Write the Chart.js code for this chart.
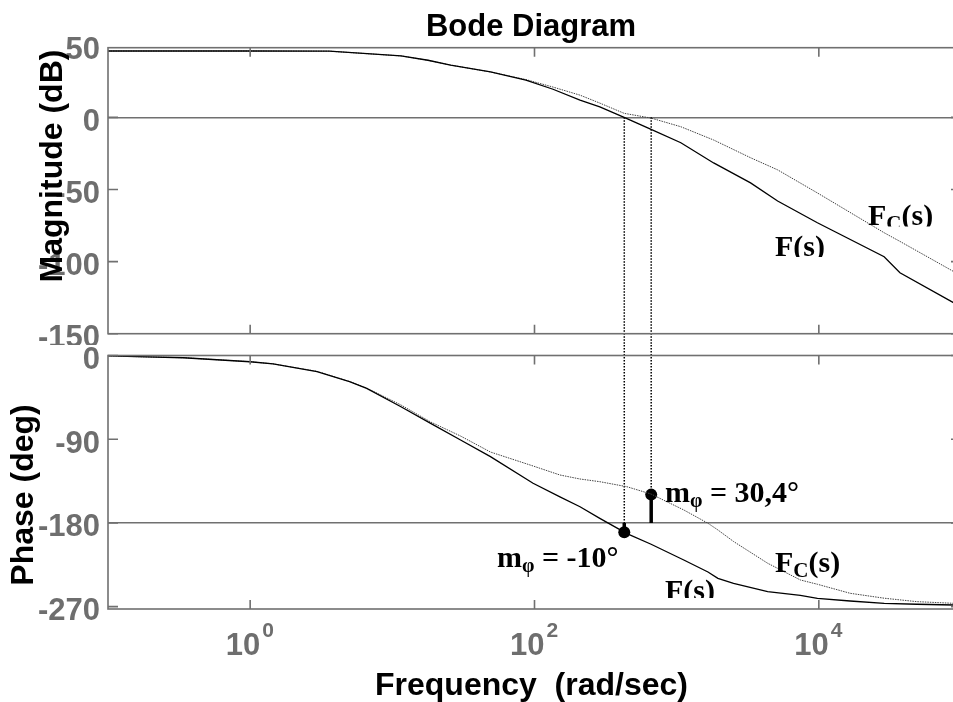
<!DOCTYPE html>
<html>
<head>
<meta charset="utf-8">
<title>Bode Diagram</title>
<script src="https://cdn.jsdelivr.net/npm/chart.js@4.4.0/dist/chart.umd.min.js"></script>
<style>
  html, body { margin: 0; padding: 0; background: #fff; overflow: hidden; }
  body { width: 953px; height: 702px; position: relative; }
  canvas { position: absolute; left: 0; }
  #mag { top: 0; }
  #phase { top: 345px; }
</style>
</head>
<body>
<canvas id="mag" width="961" height="345"></canvas>
<canvas id="phase" width="961" height="357"></canvas>
<script>
// ---- data ----
const magFreq = [0.1, 1, 3.6, 11.5, 17.8, 25.7, 49, 87, 135, 209, 288, 427, 661, 1070, 1820, 3310, 5130, 9770, 28800, 37200, 89100];
const magF    = [46, 46, 45.9, 42.6, 39.6, 36.2, 31.5, 25.8, 19.5, 12.0, 7.3, 0, -8.3, -17.6, -31.6, -45.4, -58, -73.1, -96.6, -107.7, -128.6];
const magFc   = [46, 46, 45.9, 42.6, 39.6, 36.2, 31.5, 26.2, 21, 15.4, 9.9, 2.8, -0.5, -6.5, -15.7, -28, -36.4, -52.4, -80, -86, -107];

const phaseFreq = [0.1, 0.34, 1, 1.45, 2.95, 5.0, 6.6, 11.5, 18.6, 30.2, 49, 97.7, 151, 209, 288, 447, 661, 1122, 1660, 1950, 2512, 4365, 7413, 9772, 16600, 28840, 48980, 89100];
const phaseF    = [-0.5, -2.4, -6.7, -9.1, -17.4, -28.2, -35.3, -55.1, -73, -90.9, -108.8, -137.4, -152, -162.6, -175.1, -191.5, -203, -219.9, -232.8, -239.6, -245, -254, -258, -261.1, -264, -266.5, -267.5, -268.3];
const phaseFc   = [-0.5, -2.4, -6.7, -9, -17, -28, -35, -53.2, -71.5, -86.6, -103.8, -118.8, -128.5, -132.8, -135.7, -141.1, -149, -166.1, -180.4, -187.6, -200, -223.4, -241.4, -246, -255.7, -261, -264.7, -266.5];

const crossF = 428, crossFc = 662;      // 0 dB crossover (rad/sec)
const marginF = -10, marginFc = 30.4;   // phase margins (deg)

const magTicks = [50, 0, -50, -100, -150];
const phaseTicks = [0, -90, -180, -270];
const freqTicks = [1, 100, 10000];

// ---- styling ----
const SANS = '"Liberation Sans", Arial, sans-serif';
const SERIF = '"Liberation Serif", "Times New Roman", serif';
const GRAY = '#6e6e6e';
const FRAME = '#707070';

const pts = (xs, ys) => xs.map((x, i) => ({ x, y: ys[i] }));

function yAxis(min, max, ticks, refValue) {
  return {
    type: 'linear', min, max,
    afterBuildTicks: s => { s.ticks = ticks.map(v => ({ value: v })); },
    afterFit: s => { s.width = 108; s.paddingTop = 0; s.paddingBottom = 0; },
    ticks: { color: GRAY, font: { family: SANS, size: 31, weight: 'bold' }, padding: 8, labelOffset: 5 },
    grid: {
      drawTicks: false, lineWidth: 1.5,
      color: c => (c.tick && c.tick.value === refValue) ? FRAME : 'rgba(0,0,0,0)'
    },
    border: { display: false }
  };
}

const xAxis = { type: 'logarithmic', min: 0.1, max: 1e5, display: false };

// frame with inward ticks, MATLAB style
const framePlugin = {
  id: 'frame',
  afterDraw(chart) {
    const { ctx, chartArea: a, scales: { x, y } } = chart;
    ctx.save();
    ctx.strokeStyle = FRAME;
    ctx.lineWidth = 1.6;
    ctx.strokeRect(a.left, a.top, a.right - a.left, a.bottom - a.top);
    ctx.beginPath();
    freqTicks.forEach(v => {
      const px = x.getPixelForValue(v);
      ctx.moveTo(px, a.top); ctx.lineTo(px, a.top + 9);
      ctx.moveTo(px, a.bottom); ctx.lineTo(px, a.bottom - 9);
    });
    y.ticks.forEach(t => {
      if (t.value > y.max || t.value < y.min) return;
      const py = y.getPixelForValue(t.value);
      ctx.moveTo(a.left, py); ctx.lineTo(a.left + 10, py);
      ctx.moveTo(a.right, py); ctx.lineTo(a.right - 10, py);
    });
    ctx.stroke();
    ctx.restore();
  }
};

function rich(ctx, x, y, parts) {
  ctx.textAlign = 'left';
  ctx.textBaseline = 'alphabetic';
  parts.forEach(([t, size, dy]) => {
    ctx.font = `bold ${size}px ${SERIF}`;
    ctx.fillText(t, x, y + dy);
    x += ctx.measureText(t).width;
  });
}

function clipped(ctx, w, clipY, fn) {
  ctx.save();
  ctx.beginPath();
  ctx.rect(0, 0, w, clipY);
  ctx.clip();
  fn();
  ctx.restore();
}

function dotted(ctx, x, y0, y1) {
  ctx.save();
  ctx.strokeStyle = '#000';
  ctx.lineWidth = 1.5;
  ctx.setLineDash([1.5, 1.5]);
  ctx.beginPath();
  ctx.moveTo(x, y0); ctx.lineTo(x, y1);
  ctx.stroke();
  ctx.restore();
}

/* -------------------------------------------------------------------------- */
/* Magnitude                                                                  */
/* -------------------------------------------------------------------------- */
new Chart(document.getElementById('mag'), {
  type: 'line',
  data: {
    datasets: [
      { label: 'F(s)', data: pts(magFreq, magF), borderColor: '#000', borderWidth: 1.3, pointRadius: 0, tension: 0 },
      { label: 'Fc(s)', data: pts(magFreq, magFc), borderColor: '#444', borderWidth: 1, borderDash: [1.5, 1], pointRadius: 0, tension: 0 }
    ]
  },
  options: {
    responsive: false,
    animation: false,
    layout: { autoPadding: false, padding: { top: 47.7, bottom: 11.3, left: 0, right: 0 } },
    plugins: { legend: { display: false }, tooltip: { enabled: false } },
    scales: { x: xAxis, y: yAxis(-150, 48.3, magTicks, 0) }
  },
  plugins: [framePlugin, {
    id: 'magDecor',
    beforeDatasetsDraw(chart) {
      const { ctx, scales: { x, y } } = chart;
      [crossF, crossFc].forEach(w => dotted(ctx, x.getPixelForValue(w), y.getPixelForValue(0), chart.height));
    },
    afterDraw(chart) {
      const { ctx } = chart;
      ctx.save();
      ctx.fillStyle = '#000';
      ctx.textAlign = 'center';
      ctx.font = `bold 31px ${SANS}`;
      ctx.fillText('Bode Diagram', 531, 36);

      ctx.translate(62, 166);
      ctx.rotate(-Math.PI / 2);
      ctx.font = `bold 32px ${SANS}`;
      ctx.textAlign = 'center';
      ctx.fillText('Magnitude (dB)', 0, 0);
      ctx.restore();

      ctx.save();
      ctx.fillStyle = '#000';
      clipped(ctx, chart.width, 226.5, () => rich(ctx, 868, 225, [['F', 30, 0], ['C', 21, 5], ['(s)', 30, 0]]));
      clipped(ctx, chart.width, 257, () => rich(ctx, 775, 255.5, [['F(s)', 30, 0]]));
      ctx.restore();
    }
  }]
});

/* -------------------------------------------------------------------------- */
/* Phase                                                                      */
/* -------------------------------------------------------------------------- */
new Chart(document.getElementById('phase'), {
  type: 'line',
  data: {
    datasets: [
      { label: 'F(s)', data: pts(phaseFreq, phaseF), borderColor: '#000', borderWidth: 1.3, pointRadius: 0, tension: 0 },
      { label: 'Fc(s)', data: pts(phaseFreq, phaseFc), borderColor: '#444', borderWidth: 1, borderDash: [1.5, 1], pointRadius: 0, tension: 0 },
      { label: 'mF', data: [{ x: crossF, y: -180 }, { x: crossF, y: -180 + marginF }],
        borderColor: '#000', borderWidth: 3.5, pointRadius: [0, 6], pointBackgroundColor: '#000', pointBorderWidth: 0 },
      { label: 'mFc', data: [{ x: crossFc, y: -180 }, { x: crossFc, y: -180 + marginFc }],
        borderColor: '#000', borderWidth: 3.5, pointRadius: [0, 6], pointBackgroundColor: '#000', pointBorderWidth: 0 }
    ]
  },
  options: {
    responsive: false,
    animation: false,
    layout: { autoPadding: false, padding: { top: 10.5, bottom: 93, left: 0, right: 0 } },
    plugins: { legend: { display: false }, tooltip: { enabled: false } },
    scales: { x: xAxis, y: yAxis(-272.6, 0, phaseTicks, -180) }
  },
  plugins: [framePlugin, {
    id: 'phaseDecor',
    beforeDatasetsDraw(chart) {
      const { ctx, scales: { x, y } } = chart;
      [[crossF, marginF], [crossFc, marginFc]].forEach(([w, m]) => {
        const yEnd = Math.min(y.getPixelForValue(-180), y.getPixelForValue(-180 + m));
        dotted(ctx, x.getPixelForValue(w), 0, yEnd);
      });
    },
    afterDraw(chart) {
      const { ctx, chartArea: a, scales: { x } } = chart;
      ctx.save();
      ctx.fillStyle = GRAY;
      freqTicks.forEach(v => {
        const px = x.getPixelForValue(v);
        ctx.textAlign = 'right';
        ctx.font = `bold 31px ${SANS}`;
        ctx.fillText('10', px + 10, a.bottom + 46);
        ctx.textAlign = 'left';
        ctx.font = `bold 21px ${SANS}`;
        ctx.fillText(String(Math.round(Math.log10(v))), px + 12, a.bottom + 28);
      });

      ctx.fillStyle = '#000';
      ctx.textAlign = 'center';
      ctx.font = `bold 32px ${SANS}`;
      ctx.fillText('Frequency  (rad/sec)', 531.5, a.bottom + 86);

      ctx.translate(33, 150);
      ctx.rotate(-Math.PI / 2);
      ctx.fillText('Phase (deg)', 0, 0);
      ctx.restore();

      ctx.save();
      ctx.fillStyle = '#000';
      rich(ctx, 665, 156.7, [['m', 30, 0], ['φ', 20, 5], [' = 30,4°', 30, 0]]);
      rich(ctx, 497, 221.7, [['m', 30, 0], ['φ', 20, 5], [' = -10°', 30, 0]]);
      rich(ctx, 775, 226.7, [['F', 30, 0], ['C', 21, 5], ['(s)', 30, 0]]);
      clipped(ctx, chart.width, 253, () => rich(ctx, 665, 255, [['F(s)', 30, 0]]));
      ctx.restore();
    }
  }]
});
</script>
</body>
</html>
